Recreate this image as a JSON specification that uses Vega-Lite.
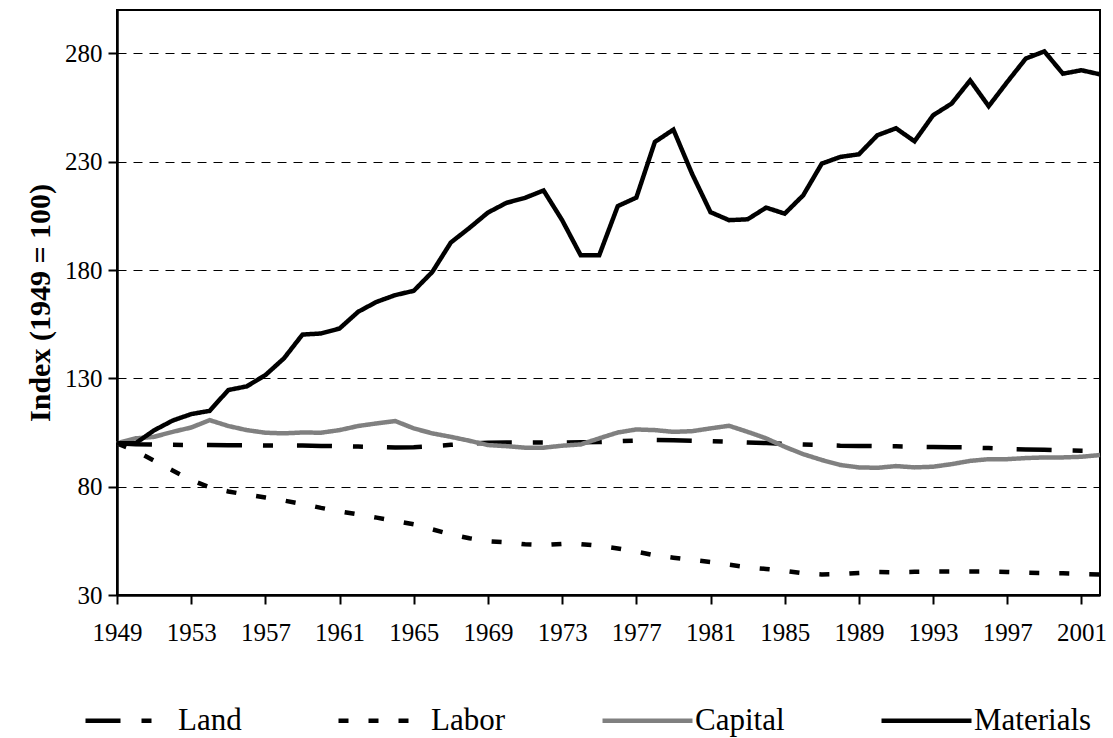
{
 "$schema": "https://vega.github.io/schema/vega-lite/v6.json",
 "width": 983,
 "height": 585,
 "autosize": {"type": "none"},
 "padding": {"left": 117, "top": 10, "right": 13, "bottom": 143},
 "background": "white",
 "config": {
  "font": "Liberation Serif",
  "view": {"stroke": "black", "strokeWidth": 2},
  "axis": {"labelColor": "black", "domainColor": "black", "tickColor": "black", "labelFont": "Liberation Serif", "titleFont": "Liberation Serif", "titleColor": "black"}
 },
 "datasets": {
  "series": [
   {"year":1949,"series":"Land","value":100},{"year":1950,"series":"Land","value":99.6},{"year":1951,"series":"Land","value":99.4},{"year":1952,"series":"Land","value":99.3},{"year":1953,"series":"Land","value":99.2},{"year":1954,"series":"Land","value":99.2},{"year":1955,"series":"Land","value":99.1},{"year":1956,"series":"Land","value":99.1},{"year":1957,"series":"Land","value":99},{"year":1958,"series":"Land","value":99},{"year":1959,"series":"Land","value":99},{"year":1960,"series":"Land","value":98.8},{"year":1961,"series":"Land","value":98.7},{"year":1962,"series":"Land","value":98.5},{"year":1963,"series":"Land","value":98.3},{"year":1964,"series":"Land","value":98.1},{"year":1965,"series":"Land","value":98.2},{"year":1966,"series":"Land","value":98.7},{"year":1967,"series":"Land","value":99.3},{"year":1968,"series":"Land","value":99.9},{"year":1969,"series":"Land","value":100.3},{"year":1970,"series":"Land","value":100.4},{"year":1971,"series":"Land","value":100.4},{"year":1972,"series":"Land","value":100.4},{"year":1973,"series":"Land","value":100.4},{"year":1974,"series":"Land","value":100.5},{"year":1975,"series":"Land","value":100.6},{"year":1976,"series":"Land","value":101},{"year":1977,"series":"Land","value":101.3},{"year":1978,"series":"Land","value":101.5},{"year":1979,"series":"Land","value":101.4},{"year":1980,"series":"Land","value":101.2},{"year":1981,"series":"Land","value":101},{"year":1982,"series":"Land","value":100.7},{"year":1983,"series":"Land","value":100.4},{"year":1984,"series":"Land","value":100.1},{"year":1985,"series":"Land","value":99.8},{"year":1986,"series":"Land","value":99.5},{"year":1987,"series":"Land","value":99.2},{"year":1988,"series":"Land","value":98.9},{"year":1989,"series":"Land","value":98.8},{"year":1990,"series":"Land","value":98.7},{"year":1991,"series":"Land","value":98.6},{"year":1992,"series":"Land","value":98.4},{"year":1993,"series":"Land","value":98.3},{"year":1994,"series":"Land","value":98.2},{"year":1995,"series":"Land","value":98.1},{"year":1996,"series":"Land","value":97.8},{"year":1997,"series":"Land","value":97.4},{"year":1998,"series":"Land","value":97.2},{"year":1999,"series":"Land","value":97},{"year":2000,"series":"Land","value":96.8},{"year":2001,"series":"Land","value":96.6},{"year":2002,"series":"Land","value":96.5},
   {"year":1949,"series":"Labor","value":100},{"year":1950,"series":"Labor","value":96.5},{"year":1951,"series":"Labor","value":92},{"year":1952,"series":"Labor","value":87.5},{"year":1953,"series":"Labor","value":83},{"year":1954,"series":"Labor","value":79.7},{"year":1955,"series":"Labor","value":77.8},{"year":1956,"series":"Labor","value":76.3},{"year":1957,"series":"Labor","value":75},{"year":1958,"series":"Labor","value":73.6},{"year":1959,"series":"Labor","value":72},{"year":1960,"series":"Labor","value":70.2},{"year":1961,"series":"Labor","value":68.6},{"year":1962,"series":"Labor","value":67.2},{"year":1963,"series":"Labor","value":65.7},{"year":1964,"series":"Labor","value":64.2},{"year":1965,"series":"Labor","value":62.6},{"year":1966,"series":"Labor","value":60.3},{"year":1967,"series":"Labor","value":58},{"year":1968,"series":"Labor","value":56.2},{"year":1969,"series":"Labor","value":54.8},{"year":1970,"series":"Labor","value":54.3},{"year":1971,"series":"Labor","value":53.4},{"year":1972,"series":"Labor","value":53},{"year":1973,"series":"Labor","value":53.6},{"year":1974,"series":"Labor","value":53.5},{"year":1975,"series":"Labor","value":52.7},{"year":1976,"series":"Labor","value":51.5},{"year":1977,"series":"Labor","value":50},{"year":1978,"series":"Labor","value":48.3},{"year":1979,"series":"Labor","value":47.2},{"year":1980,"series":"Labor","value":46.2},{"year":1981,"series":"Labor","value":45.2},{"year":1982,"series":"Labor","value":44},{"year":1983,"series":"Labor","value":42.8},{"year":1984,"series":"Labor","value":42},{"year":1985,"series":"Labor","value":41.2},{"year":1986,"series":"Labor","value":40},{"year":1987,"series":"Labor","value":39.5},{"year":1988,"series":"Labor","value":39.6},{"year":1989,"series":"Labor","value":40.2},{"year":1990,"series":"Labor","value":40.6},{"year":1991,"series":"Labor","value":40.5},{"year":1992,"series":"Labor","value":40.7},{"year":1993,"series":"Labor","value":40.8},{"year":1994,"series":"Labor","value":40.8},{"year":1995,"series":"Labor","value":40.8},{"year":1996,"series":"Labor","value":40.8},{"year":1997,"series":"Labor","value":40.6},{"year":1998,"series":"Labor","value":40.3},{"year":1999,"series":"Labor","value":40.1},{"year":2000,"series":"Labor","value":40},{"year":2001,"series":"Labor","value":39.7},{"year":2002,"series":"Labor","value":39.5},
   {"year":1949,"series":"Capital","value":100},{"year":1950,"series":"Capital","value":102.3},{"year":1951,"series":"Capital","value":103},{"year":1952,"series":"Capital","value":105.3},{"year":1953,"series":"Capital","value":107.3},{"year":1954,"series":"Capital","value":110.7},{"year":1955,"series":"Capital","value":108},{"year":1956,"series":"Capital","value":106.1},{"year":1957,"series":"Capital","value":104.9},{"year":1958,"series":"Capital","value":104.6},{"year":1959,"series":"Capital","value":105},{"year":1960,"series":"Capital","value":104.9},{"year":1961,"series":"Capital","value":106.1},{"year":1962,"series":"Capital","value":108},{"year":1963,"series":"Capital","value":109.2},{"year":1964,"series":"Capital","value":110.3},{"year":1965,"series":"Capital","value":106.9},{"year":1966,"series":"Capital","value":104.6},{"year":1967,"series":"Capital","value":103},{"year":1968,"series":"Capital","value":101.2},{"year":1969,"series":"Capital","value":99.2},{"year":1970,"series":"Capital","value":98.7},{"year":1971,"series":"Capital","value":98},{"year":1972,"series":"Capital","value":98},{"year":1973,"series":"Capital","value":98.9},{"year":1974,"series":"Capital","value":99.5},{"year":1975,"series":"Capital","value":102.3},{"year":1976,"series":"Capital","value":105},{"year":1977,"series":"Capital","value":106.4},{"year":1978,"series":"Capital","value":106.1},{"year":1979,"series":"Capital","value":105.3},{"year":1980,"series":"Capital","value":105.6},{"year":1981,"series":"Capital","value":106.9},{"year":1982,"series":"Capital","value":108.1},{"year":1983,"series":"Capital","value":105.3},{"year":1984,"series":"Capital","value":102.3},{"year":1985,"series":"Capital","value":98.4},{"year":1986,"series":"Capital","value":95},{"year":1987,"series":"Capital","value":92.3},{"year":1988,"series":"Capital","value":90},{"year":1989,"series":"Capital","value":88.9},{"year":1990,"series":"Capital","value":88.7},{"year":1991,"series":"Capital","value":89.5},{"year":1992,"series":"Capital","value":88.9},{"year":1993,"series":"Capital","value":89.2},{"year":1994,"series":"Capital","value":90.4},{"year":1995,"series":"Capital","value":91.9},{"year":1996,"series":"Capital","value":92.7},{"year":1997,"series":"Capital","value":92.7},{"year":1998,"series":"Capital","value":93.2},{"year":1999,"series":"Capital","value":93.5},{"year":2000,"series":"Capital","value":93.5},{"year":2001,"series":"Capital","value":93.8},{"year":2002,"series":"Capital","value":94.6},
   {"year":1949,"series":"Materials","value":100},{"year":1950,"series":"Materials","value":100},{"year":1951,"series":"Materials","value":106},{"year":1952,"series":"Materials","value":110.5},{"year":1953,"series":"Materials","value":113.5},{"year":1954,"series":"Materials","value":115},{"year":1955,"series":"Materials","value":124.6},{"year":1956,"series":"Materials","value":126.3},{"year":1957,"series":"Materials","value":131.5},{"year":1958,"series":"Materials","value":139.2},{"year":1959,"series":"Materials","value":150.2},{"year":1960,"series":"Materials","value":150.7},{"year":1961,"series":"Materials","value":153},{"year":1962,"series":"Materials","value":160.7},{"year":1963,"series":"Materials","value":165.3},{"year":1964,"series":"Materials","value":168.4},{"year":1965,"series":"Materials","value":170.4},{"year":1966,"series":"Materials","value":179.1},{"year":1967,"series":"Materials","value":192.7},{"year":1968,"series":"Materials","value":199.4},{"year":1969,"series":"Materials","value":206.5},{"year":1970,"series":"Materials","value":211},{"year":1971,"series":"Materials","value":213.3},{"year":1972,"series":"Materials","value":216.7},{"year":1973,"series":"Materials","value":203},{"year":1974,"series":"Materials","value":186.8},{"year":1975,"series":"Materials","value":186.8},{"year":1976,"series":"Materials","value":209.5},{"year":1977,"series":"Materials","value":213.4},{"year":1978,"series":"Materials","value":239.1},{"year":1979,"series":"Materials","value":244.8},{"year":1980,"series":"Materials","value":224.5},{"year":1981,"series":"Materials","value":206.7},{"year":1982,"series":"Materials","value":203},{"year":1983,"series":"Materials","value":203.4},{"year":1984,"series":"Materials","value":208.8},{"year":1985,"series":"Materials","value":206},{"year":1986,"series":"Materials","value":214.5},{"year":1987,"series":"Materials","value":229.1},{"year":1988,"series":"Materials","value":232.2},{"year":1989,"series":"Materials","value":233.4},{"year":1990,"series":"Materials","value":242.2},{"year":1991,"series":"Materials","value":245.4},{"year":1992,"series":"Materials","value":239.4},{"year":1993,"series":"Materials","value":251.4},{"year":1994,"series":"Materials","value":256.8},{"year":1995,"series":"Materials","value":267.5},{"year":1996,"series":"Materials","value":255.6},{"year":1997,"series":"Materials","value":266.8},{"year":1998,"series":"Materials","value":277.6},{"year":1999,"series":"Materials","value":280.9},{"year":2000,"series":"Materials","value":270.6},{"year":2001,"series":"Materials","value":272.2},{"year":2002,"series":"Materials","value":270.3}
  ]
 },
 "data": {"name": "series"},
 "mark": {"type": "line", "strokeWidth": 4.5, "strokeCap": "butt", "strokeJoin": "miter"},
 "encoding": {
  "x": {
   "field": "year", "type": "quantitative",
   "scale": {"domain": [1949, 2002], "nice": false, "zero": false},
   "axis": {
    "title": null, "grid": false,
    "values": [1949,1953,1957,1961,1965,1969,1973,1977,1981,1985,1989,1993,1997,2001],
    "format": "d", "labelFontSize": 25, "labelPadding": 16, "tickSize": 9, "tickWidth": 2, "domainWidth": 2.5,
    "labelOverlap": false, "labelFlush": false
   }
  },
  "y": {
   "field": "value", "type": "quantitative",
   "scale": {"domain": [30, 300], "nice": false, "zero": false},
   "axis": {
    "title": "Index (1949 = 100)", "titleFontSize": 30, "titleFontWeight": "bold", "titlePadding": 9,
    "values": [30, 80, 130, 180, 230, 280],
    "grid": true, "gridColor": "black", "gridDash": [9, 7], "gridWidth": 1,
    "labelFontSize": 25, "labelPadding": 6, "tickSize": 9, "tickWidth": 2, "domainWidth": 2.5,
    "labelOverlap": false
   }
  },
  "color": {
   "field": "series", "type": "nominal",
   "scale": {"domain": ["Land", "Labor", "Capital", "Materials"], "range": ["#000000", "#000000", "#808080", "#000000"]},
   "legend": {
    "orient": "none", "legendX": -34, "legendY": 663, "direction": "horizontal", "columns": 4,
    "title": null, "symbolType": "stroke", "symbolSize": 8100, "symbolStrokeWidth": 4.5,
    "labelFontSize": 31, "labelFont": "Liberation Serif", "labelColor": "black", "labelOffset": 0,
    "columnPadding": 87, "labelLimit": 300
   }
  },
  "strokeDash": {
   "field": "series", "type": "nominal",
   "scale": {"domain": ["Land", "Labor", "Capital", "Materials"], "range": [[35, 21, 10, 24], [10, 20], [1, 0], [1, 0]]},
   "legend": {
    "orient": "none", "legendX": -34, "legendY": 663, "direction": "horizontal", "columns": 4,
    "title": null, "symbolType": "stroke", "symbolSize": 8100, "symbolStrokeWidth": 4.5,
    "labelFontSize": 31, "labelFont": "Liberation Serif", "labelColor": "black", "labelOffset": 0,
    "columnPadding": 87, "labelLimit": 300
   }
  }
 }
}
